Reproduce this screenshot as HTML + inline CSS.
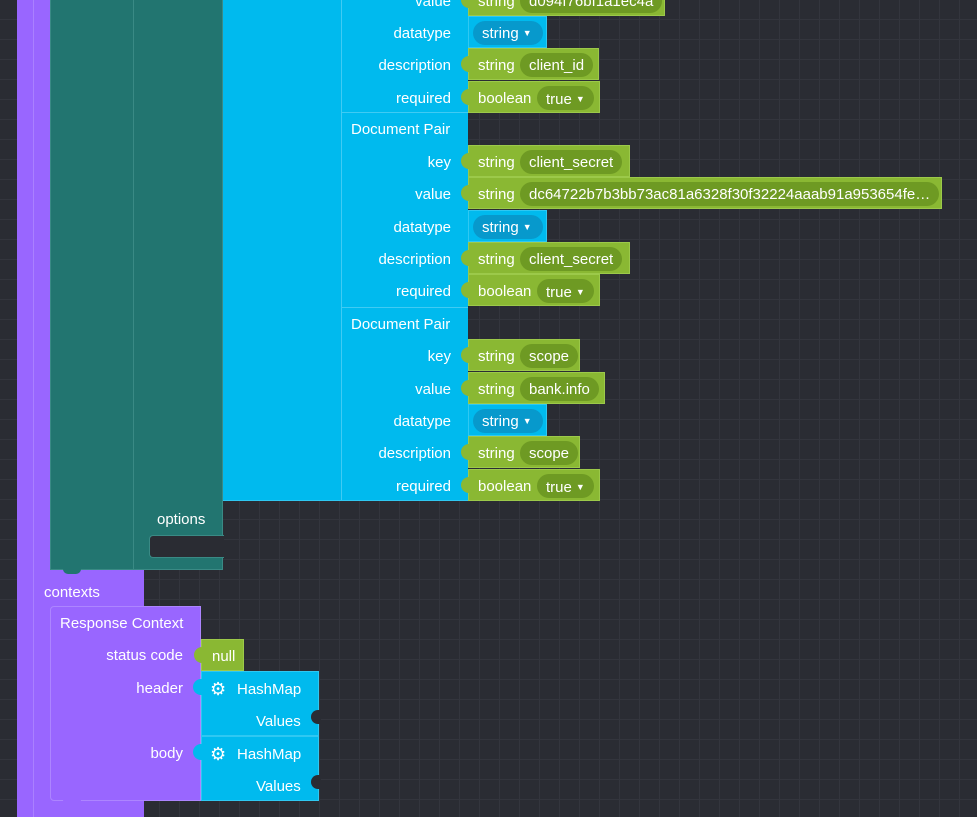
<!DOCTYPE html>
<html><head><meta charset="utf-8"><style>
*{margin:0;padding:0;box-sizing:border-box}
body{width:977px;height:817px;overflow:hidden;position:relative;background-color:#2a2c33;
background-image:linear-gradient(#33353d 1px,transparent 1px),linear-gradient(90deg,#33353d 1px,transparent 1px);background-size:20px 20px;background-position:-1px -1px;
font-family:"Liberation Sans",sans-serif;font-size:15px;color:#fff}
.a{position:absolute}
.lbl{position:absolute;white-space:nowrap;line-height:20px;transform:translateY(2px)}
.g{position:absolute;background:#8ab833;border:1px solid #9cc94a;height:32px}
.g .t{position:absolute;left:9px;top:7px;line-height:20px}
.pill{position:absolute;top:4px;height:24px;border-radius:12px;background:#6e9a23;padding:0 9px;line-height:26px;white-space:nowrap}
.tab{position:absolute;left:-8px;top:7px;width:14px;height:16px;border-radius:8px 0 0 8px}
.b{position:absolute;background:#00baee;height:32px;border:1px solid #2fc8f2}
.bp{position:absolute;left:4px;top:4px;height:24px;width:70px;border-radius:12px;background:#0799cc;line-height:24px;padding-left:9px}
i{font-style:normal;font-size:9px;vertical-align:2px;margin-left:4px}
</style></head><body>
<div class="a" style="left:17px;top:0;width:17px;height:817px;background:#9966ff"></div>
<div class="a" style="left:33px;top:0;width:1px;height:817px;background:#aa80ff"></div>
<div class="a" style="left:34px;top:0;width:16px;height:817px;background:#9966ff"></div>
<div class="a" style="left:34px;top:568px;width:110px;height:249px;background:#9966ff"></div>
<div class="lbl" style="left:44px;top:581px">contexts</div>
<div class="a" style="left:50px;top:0;width:173px;height:570px;background:#227570;border:1px solid #3a8a85;border-top:none"></div>
<div class="a" style="left:133px;top:0;width:1px;height:569px;background:#3a8a85"></div>
<div class="lbl" style="left:157px;top:508px">options</div>
<div class="a" style="left:149px;top:535px;width:75px;height:23px;background:#2a2c33;border-radius:4px 0 0 4px;border:1px solid #3a8a85;border-right:none"></div>
<div class="a" style="left:63px;top:569px;width:18px;height:5px;background:#227570;border-radius:0 0 6px 6px"></div>
<div class="a" style="left:223px;top:0;width:245px;height:501px;background:#00baee;border-bottom:1px solid #2fc8f2"></div>
<div class="a" style="left:341px;top:0;width:1px;height:500px;background:#40cbf3"></div>
<div class="a" style="left:341px;top:112px;width:127px;height:1px;background:#40cbf3"></div>
<div class="a" style="left:341px;top:307px;width:127px;height:1px;background:#40cbf3"></div>
<div class="lbl" style="left:351px;top:118px">Document Pair</div>
<div class="lbl" style="left:351px;top:313px">Document Pair</div>
<div class="lbl" style="right:526px;top:-10px">value</div>
<div class="lbl" style="right:526px;top:22px">datatype</div>
<div class="lbl" style="right:526px;top:54px">description</div>
<div class="lbl" style="right:526px;top:87px">required</div>
<div class="lbl" style="right:526px;top:151px">key</div>
<div class="lbl" style="right:526px;top:183px">value</div>
<div class="lbl" style="right:526px;top:216px">datatype</div>
<div class="lbl" style="right:526px;top:248px">description</div>
<div class="lbl" style="right:526px;top:280px">required</div>
<div class="lbl" style="right:526px;top:345px">key</div>
<div class="lbl" style="right:526px;top:378px">value</div>
<div class="lbl" style="right:526px;top:410px">datatype</div>
<div class="lbl" style="right:526px;top:442px">description</div>
<div class="lbl" style="right:526px;top:475px">required</div>
<div class="g" style="left:468px;top:-16px;width:197px"><div class="tab" style="background:#8ab833"></div><span class="t">string</span><div class="pill" style="left:51px">d094f76bf1a1ec4a</div></div>
<div class="g" style="left:468px;top:48px;width:131px"><div class="tab" style="background:#8ab833"></div><span class="t">string</span><div class="pill" style="left:51px">client_id</div></div>
<div class="g" style="left:468px;top:81px;width:132px"><div class="tab" style="background:#8ab833"></div><span class="t">boolean</span><div class="pill" style="left:68px">true<i>▼</i></div></div>
<div class="g" style="left:468px;top:145px;width:162px"><div class="tab" style="background:#8ab833"></div><span class="t">string</span><div class="pill" style="left:51px">client_secret</div></div>
<div class="g" style="left:468px;top:177px;width:474px"><div class="tab" style="background:#8ab833"></div><span class="t">string</span><div class="pill" style="left:51px">dc64722b7b3bb73ac81a6328f30f32224aaab91a953654fe…</div></div>
<div class="g" style="left:468px;top:242px;width:162px"><div class="tab" style="background:#8ab833"></div><span class="t">string</span><div class="pill" style="left:51px">client_secret</div></div>
<div class="g" style="left:468px;top:274px;width:132px"><div class="tab" style="background:#8ab833"></div><span class="t">boolean</span><div class="pill" style="left:68px">true<i>▼</i></div></div>
<div class="g" style="left:468px;top:339px;width:112px"><div class="tab" style="background:#8ab833"></div><span class="t">string</span><div class="pill" style="left:51px">scope</div></div>
<div class="g" style="left:468px;top:372px;width:137px"><div class="tab" style="background:#8ab833"></div><span class="t">string</span><div class="pill" style="left:51px">bank.info</div></div>
<div class="g" style="left:468px;top:436px;width:112px"><div class="tab" style="background:#8ab833"></div><span class="t">string</span><div class="pill" style="left:51px">scope</div></div>
<div class="g" style="left:468px;top:469px;width:132px"><div class="tab" style="background:#8ab833"></div><span class="t">boolean</span><div class="pill" style="left:68px">true<i>▼</i></div></div>
<div class="b" style="left:468px;top:16px;width:79px"><div class="bp">string<i>▼</i></div></div>
<div class="b" style="left:468px;top:210px;width:79px"><div class="bp">string<i>▼</i></div></div>
<div class="b" style="left:468px;top:404px;width:79px"><div class="bp">string<i>▼</i></div></div>
<div class="a" style="left:50px;top:606px;width:151px;height:195px;background:#9966ff;border:1px solid #ad85ff;border-radius:4px 0 0 4px"></div>
<div class="a" style="left:63px;top:800px;width:18px;height:5px;background:#9966ff;border-radius:0 0 6px 6px"></div>
<div class="lbl" style="left:60px;top:612px">Response Context</div>
<div class="lbl" style="right:794px;top:644px">status code</div>
<div class="lbl" style="right:794px;top:677px">header</div>
<div class="lbl" style="right:794px;top:742px">body</div>
<div class="g" style="left:201px;top:639px;width:43px"><div class="tab" style="background:#8ab833"></div><span class="t" style="left:10px;top:7px">null</span></div>
<div class="a" style="left:201px;top:671px;width:118px;height:65px;background:#00baee;border:1px solid #2fc8f2"></div>
<div class="a" style="left:201px;top:736px;width:118px;height:65px;background:#00baee;border:1px solid #2fc8f2"></div>
<div class="a" style="left:193px;top:679px;width:10px;height:16px;background:#00baee;border-radius:8px 0 0 8px"></div>
<div class="a" style="left:193px;top:744px;width:10px;height:16px;background:#00baee;border-radius:8px 0 0 8px"></div>
<div class="a" style="left:311px;top:710px;width:10px;height:14px;background:#2a2c33;border-radius:7px 0 0 7px"></div>
<div class="a" style="left:311px;top:775px;width:10px;height:14px;background:#2a2c33;border-radius:7px 0 0 7px"></div>
<div class="lbl" style="left:210px;top:677px;font-size:18px">⚙</div>
<div class="lbl" style="left:237px;top:678px">HashMap</div>
<div class="lbl" style="left:256px;top:710px">Values</div>
<div class="lbl" style="left:210px;top:742px;font-size:18px">⚙</div>
<div class="lbl" style="left:237px;top:743px">HashMap</div>
<div class="lbl" style="left:256px;top:775px">Values</div>
</body></html>
